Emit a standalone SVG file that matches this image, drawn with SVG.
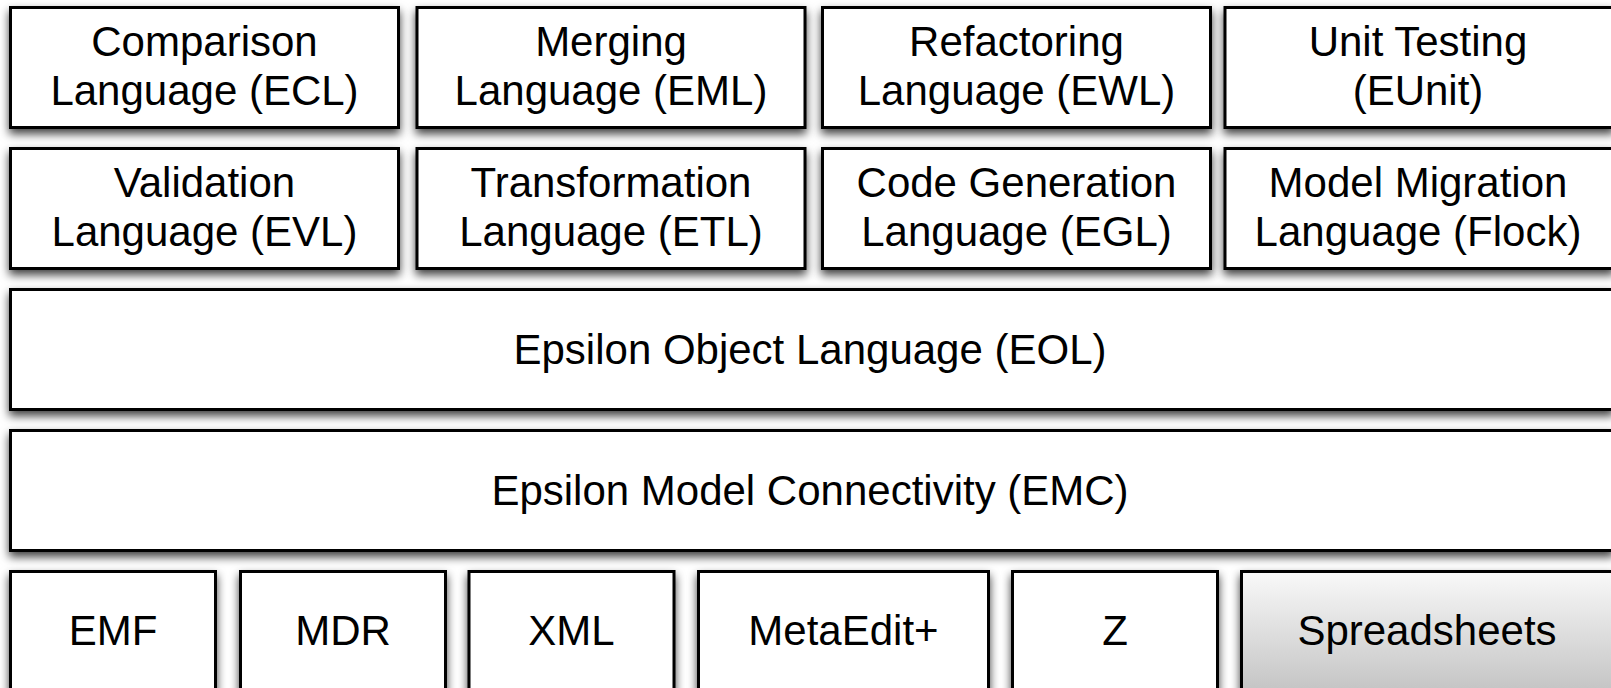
<svg xmlns="http://www.w3.org/2000/svg" width="1611" height="688" viewBox="0 0 1611 688">
<defs>
<filter id="sh" x="-10%" y="-20%" width="120%" height="150%">
<feDropShadow dx="0" dy="5" stdDeviation="5" flood-color="#000" flood-opacity="0.75"/>
</filter>
<linearGradient id="gr" x1="0" y1="0" x2="0" y2="1">
<stop offset="0" stop-color="#f9f9f9"/>
<stop offset="1" stop-color="#c2c2c2"/>
</linearGradient>
<style>
.b{fill:#fff;stroke:#000;stroke-width:3;filter:url(#sh)}
.g{fill:url(#gr)}
text{font-family:"Liberation Sans",Arial,Helvetica,sans-serif;font-size:42px;fill:#000;text-anchor:middle}
</style>
</defs>
<rect width="1611" height="688" fill="#fff"/>
<g id="ecl"><rect class="b" x="10.5" y="7.5" width="388" height="120"/><text x="204.5" y="56">Comparison</text><text x="204.5" y="105">Language (ECL)</text></g>
<g id="eml"><rect class="b" x="417" y="7.5" width="388" height="120"/><text x="611" y="56">Merging</text><text x="611" y="105">Language (EML)</text></g>
<g id="ewl"><rect class="b" x="822.5" y="7.5" width="388" height="120"/><text x="1016.5" y="56">Refactoring</text><text x="1016.5" y="105">Language (EWL)</text></g>
<g id="eunit"><rect class="b" x="1225" y="7.5" width="388" height="120"/><text x="1418" y="56">Unit Testing</text><text x="1418" y="105">(EUnit)</text></g>
<g id="evl"><rect class="b" x="10.5" y="148.5" width="388" height="120"/><text x="204.5" y="197">Validation</text><text x="204.5" y="246">Language (EVL)</text></g>
<g id="etl"><rect class="b" x="417" y="148.5" width="388" height="120"/><text x="611" y="197">Transformation</text><text x="611" y="246">Language (ETL)</text></g>
<g id="egl"><rect class="b" x="822.5" y="148.5" width="388" height="120"/><text x="1016.5" y="197">Code Generation</text><text x="1016.5" y="246">Language (EGL)</text></g>
<g id="flock"><rect class="b" x="1225" y="148.5" width="388" height="120"/><text x="1418" y="197">Model Migration</text><text x="1418" y="246">Language (Flock)</text></g>
<g id="eol"><rect class="b" x="10.5" y="289.5" width="1602" height="120"/><text x="810" y="364">Epsilon Object Language (EOL)</text></g>
<g id="emc"><rect class="b" x="10.5" y="430.5" width="1602" height="120"/><text x="810" y="505">Epsilon Model Connectivity (EMC)</text></g>
<g id="emf"><rect class="b" x="10.5" y="571.5" width="205" height="125"/><text x="113" y="645">EMF</text></g>
<g id="mdr"><rect class="b" x="240.5" y="571.5" width="205" height="125"/><text x="343" y="645">MDR</text></g>
<g id="xml"><rect class="b" x="469" y="571.5" width="205" height="125"/><text x="571.5" y="645">XML</text></g>
<g id="metaedit"><rect class="b" x="698.5" y="571.5" width="290" height="125"/><text x="843.5" y="645">MetaEdit+</text></g>
<g id="z"><rect class="b" x="1012.5" y="571.5" width="205" height="125"/><text x="1115" y="645">Z</text></g>
<g id="spreadsheets"><rect class="b g" x="1241.5" y="571.5" width="371" height="125"/><text x="1427" y="645">Spreadsheets</text></g>
<g id="connectors"/>
</svg>
